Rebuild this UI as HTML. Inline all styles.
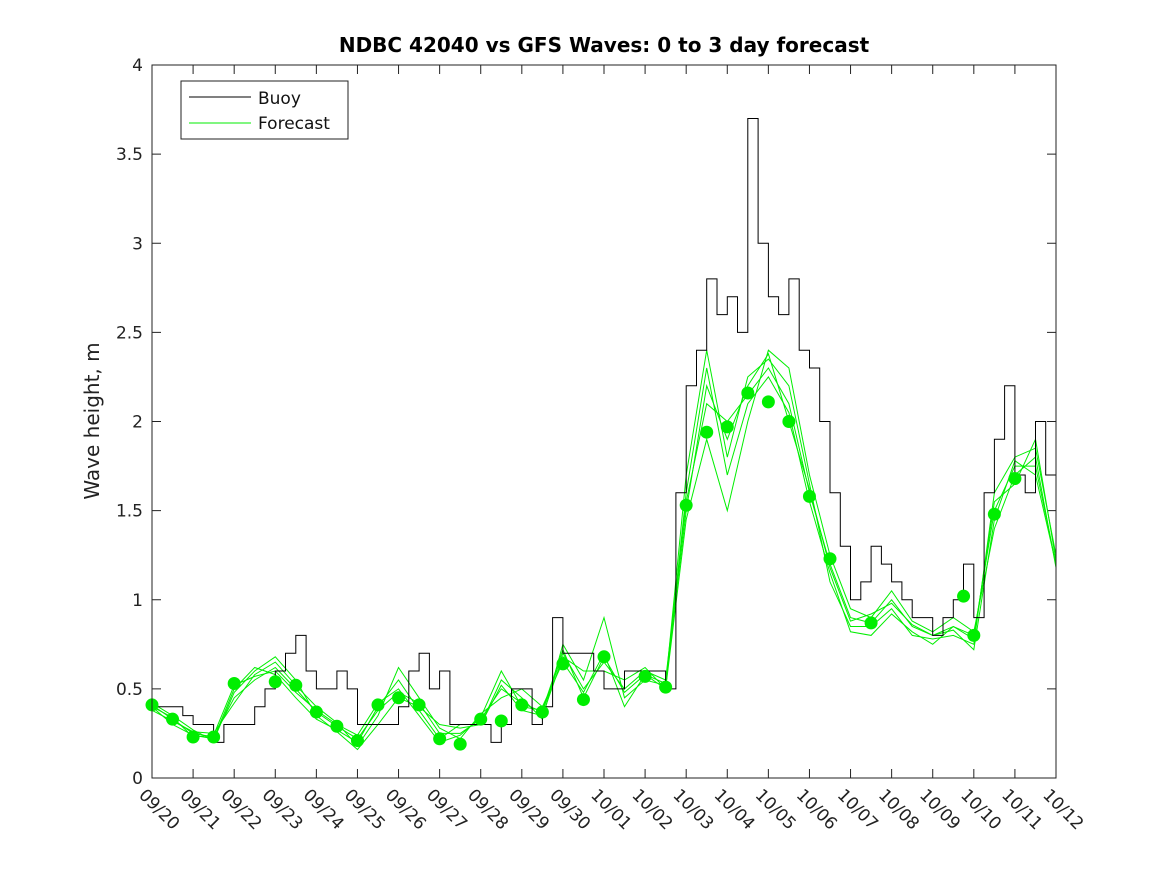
<!DOCTYPE html>
<html><head><meta charset="utf-8"><style>
body{margin:0;background:#fff;}
svg{display:block;font-family:"DejaVu Sans","Liberation Sans",sans-serif;}
</style></head><body>
<svg id="chart" width="1167" height="875">
<text x="604" y="52" text-anchor="middle" font-size="20" font-weight="bold" fill="#000">NDBC 42040 vs GFS Waves: 0 to 3 day forecast</text>
<text transform="translate(99,421) rotate(-90)" text-anchor="middle" font-size="20" fill="#222">Wave height, m</text>
<g id="grid"></g>
<g id="plot"></g>
<rect x="152" y="65" width="904" height="713" fill="none" stroke="#222" stroke-width="1"/>
<g>
<rect x="181" y="81" width="167" height="58" fill="#fff" stroke="#222"/>
<line x1="189" y1="97" x2="251" y2="97" stroke="#000"/>
<text x="258" y="104" font-size="17" fill="#111">Buoy</text>
<line x1="189" y1="123" x2="251" y2="123" stroke="#00ee00"/>
<text x="258" y="129" font-size="17" fill="#111">Forecast</text>
</g>
</svg>
<script>
const xLabels=["09/20","09/21","09/22","09/23","09/24","09/25","09/26","09/27","09/28","09/29","09/30","10/01","10/02","10/03","10/04","10/05","10/06","10/07","10/08","10/09","10/10","10/11","10/12"];
const yTicks=[0,0.5,1,1.5,2,2.5,3,3.5,4];
const buoy=[0.4,0.4,0.4,0.35, 0.3,0.3,0.2,0.3, 0.3,0.3,0.4,0.5, 0.6,0.7,0.8,0.6, 0.5,0.5,0.6,0.5, 0.3,0.3,0.3,0.3, 0.4,0.6,0.7,0.5, 0.6,0.3,0.3,0.3, 0.3,0.2,0.3,0.5, 0.5,0.3,0.4,0.9, 0.7,0.7,0.7,0.6, 0.5,0.5,0.6,0.6, 0.6,0.6,0.5,1.6, 2.2,2.4,2.8,2.6, 2.7,2.5,3.7,3.0, 2.7,2.6,2.8,2.4, 2.3,2.0,1.6,1.3, 1.0,1.1,1.3,1.2, 1.1,1.0,0.9,0.9, 0.8,0.9,1.0,1.2, 0.9,1.6,1.9,2.2, 1.7,1.6,2.0,1.7, 1.2];
const fc1=[0.41,0.33,0.25,0.23,0.45,0.55,0.62,0.50,0.37,0.29,0.22,0.38,0.48,0.42,0.25,0.25,0.33,0.50,0.42,0.37,0.70,0.50,0.65,0.50,0.60,0.55,1.55,2.10,2.00,2.15,2.30,2.10,1.60,1.20,0.90,0.87,1.00,0.85,0.80,0.85,0.80,1.50,1.75,1.75,1.20];
const fc2=[0.40,0.30,0.24,0.22,0.50,0.62,0.58,0.45,0.33,0.27,0.20,0.40,0.55,0.38,0.22,0.30,0.30,0.55,0.45,0.33,0.75,0.55,0.90,0.45,0.55,0.52,1.70,2.40,1.80,2.25,2.35,2.20,1.65,1.10,0.85,0.85,0.95,0.80,0.78,0.80,0.75,1.60,1.80,1.85,1.25];
const fc3=[0.38,0.32,0.26,0.25,0.42,0.58,0.65,0.52,0.40,0.31,0.18,0.35,0.62,0.45,0.28,0.22,0.36,0.45,0.50,0.40,0.65,0.48,0.70,0.40,0.58,0.50,1.45,1.90,1.50,2.00,2.40,2.30,1.70,1.25,0.95,0.90,1.05,0.88,0.82,0.90,0.82,1.40,1.70,1.80,1.18];
const fc4=[0.42,0.35,0.27,0.21,0.48,0.60,0.68,0.55,0.35,0.26,0.16,0.30,0.45,0.40,0.30,0.28,0.30,0.52,0.38,0.35,0.68,0.60,0.60,0.55,0.62,0.50,1.60,2.30,1.70,2.10,2.25,2.05,1.55,1.15,0.82,0.80,0.92,0.82,0.75,0.85,0.78,1.55,1.65,1.90,1.22];
const fc5=[0.40,0.34,0.23,0.24,0.52,0.57,0.60,0.48,0.38,0.30,0.24,0.42,0.50,0.35,0.20,0.24,0.34,0.60,0.40,0.38,0.72,0.45,0.68,0.48,0.58,0.53,1.50,2.20,1.90,2.20,2.38,2.00,1.62,1.18,0.88,0.92,0.98,0.86,0.80,0.83,0.72,1.45,1.78,1.70,1.20];
const dotT=[0,0.5,1,1.5,2,3,3.5,4,4.5,5,5.5,6,6.5,7,7.5,8,8.5,9,9.5,10,10.5,11,12,12.5,13,13.5,14,14.5,15,15.5,16,16.5,17.5,19.75,20,20.5,21];
const dotV=[0.41,0.33,0.23,0.23,0.53,0.54,0.52,0.37,0.29,0.21,0.41,0.45,0.41,0.22,0.19,0.33,0.32,0.41,0.37,0.64,0.44,0.68,0.57,0.51,1.53,1.94,1.97,2.16,2.11,2.0,1.58,1.23,0.87,1.02,0.80,1.48,1.68];
const X0=152,X1=1056,Y0=778,Y1=65;
const xs=t=>X0+(X1-X0)*t/22, ys=v=>Y0-(Y0-Y1)*v/4;
const NS="http://www.w3.org/2000/svg";
const grid=document.getElementById('grid'),plot=document.getElementById('plot');
function mk(tag,attrs,parent){const e=document.createElementNS(NS,tag);for(const k in attrs)e.setAttribute(k,attrs[k]);parent.appendChild(e);return e;}
yTicks.forEach(v=>{const y=ys(v);
 let l=mk('path',{d:`M${X0} ${y}H${X0+9}M${X1} ${y}H${X1-9}`,stroke:'#222'},grid);
 
 
 let t=mk('text',{x:X0-9,y:y+6,'text-anchor':'end','font-size':17,fill:'#222'},grid);t.textContent=String(v);
 
 
});
xLabels.forEach((s,i)=>{const x=xs(i);
 let l=mk('path',{d:`M${x} ${Y0}V${Y0-9}M${x} ${Y1}V${Y1+9}`,stroke:'#222'},grid);
 
 
 let t=mk('text',{transform:`translate(${x-14},${Y0+18}) rotate(45)`,'font-size':17,fill:'#222'},grid);t.textContent=s;
 
 
});
[fc1,fc2,fc3,fc4,fc5].forEach(a=>{
 const d=a.map((v,i)=>(i?'L':'M')+xs(i/2).toFixed(1)+' '+ys(v).toFixed(1)).join('');
 let p=mk('path',{d,fill:'none',stroke:'#00ee00','stroke-width':1},plot);
 
 
});
let d='';buoy.forEach((v,i)=>{const x0=xs(i/4),x1=xs(Math.min(i+1,buoy.length-1)/4),y=ys(v);d+=(i?'V':'M'+x0+' ')+y.toFixed(1)+'H'+x1.toFixed(1);});
let bp=mk('path',{d,fill:'none',stroke:'#000','stroke-width':1},plot);


dotT.forEach((t,i)=>{let c=mk('circle',{cx:xs(t),cy:ys(dotV[i]),r:6.5,fill:'#00ee00'},plot);
 
 
});
</script>
</body></html>
